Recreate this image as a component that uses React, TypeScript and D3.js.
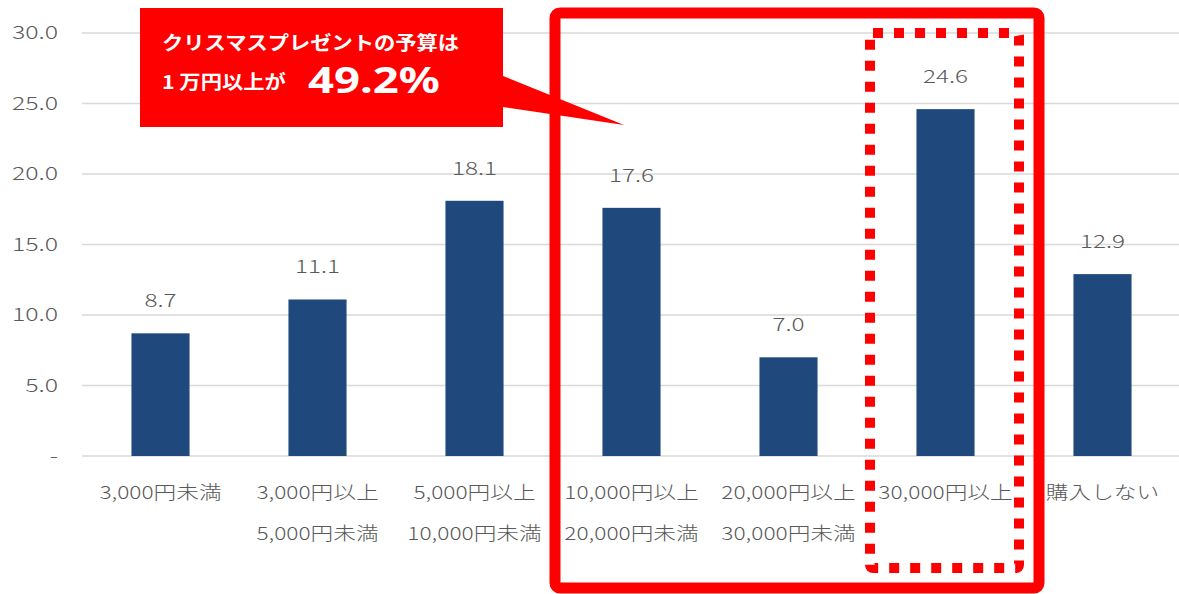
import React from "react";
import * as d3 from "d3";

const categories: string[][] = [
  ["3,000円未満"],
  ["3,000円以上", "5,000円未満"],
  ["5,000円以上", "10,000円未満"],
  ["10,000円以上", "20,000円未満"],
  ["20,000円以上", "30,000円未満"],
  ["30,000円以上"],
  ["購入しない"],
];
const values: number[] = [8.7, 11.1, 18.1, 17.6, 7.0, 24.6, 12.9];
const yTicks: number[] = [0, 5, 10, 15, 20, 25, 30];
const calloutLine1 = "クリスマスプレゼントの予算は";
const calloutLine2 = "1 万円以上が";
const calloutBig = "49.2%";

const W = 1179;
const H = 594;
const FONT = "'Noto Sans CJK JP', 'Noto Sans', sans-serif";
const TXT = "#595959";

export default function App() {
  const x = d3
    .scaleBand<number>()
    .domain(d3.range(categories.length))
    .range([82, 1181])
    .paddingInner(0.63)
    .paddingOuter(0.315);
  const y = d3.scaleLinear().domain([0, 30]).range([456, 33]);
  const fmt = d3.format(".1f");

  const stretched = (tx: number, ty: number, sx: number, content: string, props: any) => (
    <text transform={`translate(${tx},${ty}) scale(${sx},1)`} {...props}>
      {content}
    </text>
  );

  return (
    <svg
      width={W}
      height={H}
      style={{ position: "absolute", left: 0, top: 0, background: "#fff" }}
      fontFamily={FONT}
    >
      {yTicks.map((t) => (
        <g key={t}>
          <line x1={82} x2={W} y1={y(t)} y2={y(t)} stroke="#d9d9d9" strokeWidth={1.5} />
          {stretched(58, y(t) + 6, 1.38, t === 0 ? "-" : fmt(t), {
            textAnchor: "end",
            fontSize: 18,
            fill: TXT,
            fontWeight: 300,
          })}
        </g>
      ))}
      {values.map((v, i) => (
        <g key={i}>
          <rect
            x={x(i)!}
            y={y(v)}
            width={x.bandwidth()}
            height={y(0) - y(v)}
            fill="#1F497D"
          />
          {stretched(x(i)! + x.bandwidth() / 2, y(v) - 26, 1.35, fmt(v), {
            textAnchor: "middle",
            fontSize: 18,
            fill: TXT,
            fontWeight: 300,
          })}
          {categories[i].map((line, j) => (
            <g key={j}>
              {stretched(x(i)! + x.bandwidth() / 2, 499 + j * 41, 1.26, line, {
                textAnchor: "middle",
                fontSize: 18,
                fill: TXT,
                fontWeight: 300,
              })}
            </g>
          ))}
        </g>
      ))}
      {/* big red frame */}
      <rect x={555} y={13} width={484} height={575} rx={5} fill="none" stroke="#FF0000" strokeWidth={11} />
      {/* dotted frame */}
      <rect
        x={870}
        y={33}
        width={149}
        height={535}
        rx={3}
        fill="none"
        stroke="#FF0000"
        strokeWidth={10}
        strokeDasharray="10 11"
      />
      {/* callout */}
      <path d="M140,8 L503,8 L503,76 L624,125 L503,107 L503,127 L140,127 Z" fill="#FF0000" />
      {stretched(162, 50, 1.12, calloutLine1, { fontSize: 19, fontWeight: "bold", fill: "#fff" })}
      {stretched(162, 89, 1.12, calloutLine2, { fontSize: 19, fontWeight: "bold", fill: "#fff" })}
      {stretched(308, 93, 1.3, calloutBig, {
        fontSize: 35,
        fontWeight: "bold",
        fill: "#fff",
        fontFamily: "'Noto Sans', sans-serif",
      })}
    </svg>
  );
}
